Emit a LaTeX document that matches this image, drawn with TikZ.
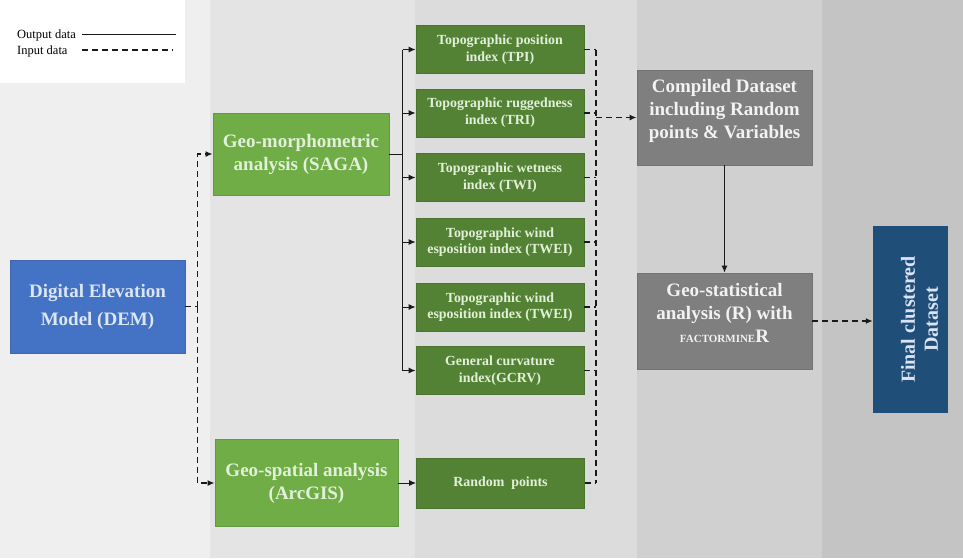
\documentclass[tikz,border=0pt]{standalone}
\usepackage{fontspec}
\setmainfont{Liberation Serif}
\usetikzlibrary{arrows.meta}
\definecolor{panelone}{HTML}{EFEFEF}
\definecolor{paneltwo}{HTML}{E4E4E4}
\definecolor{panelthree}{HTML}{DCDCDC}
\definecolor{panelfour}{HTML}{D0D0D0}
\definecolor{panelfive}{HTML}{C4C4C4}
\definecolor{demfill}{HTML}{4472C4}
\definecolor{demedge}{HTML}{3D67B2}
\definecolor{demtext}{HTML}{DCE6F4}
\definecolor{toolfill}{HTML}{70AD47}
\definecolor{tooledge}{HTML}{62993D}
\definecolor{tooltext}{HTML}{E2F0D9}
\definecolor{indexfill}{HTML}{548235}
\definecolor{indexedge}{HTML}{4A742F}
\definecolor{datafill}{HTML}{7F7F7F}
\definecolor{dataedge}{HTML}{737373}
\definecolor{datatext}{HTML}{F2F2F2}
\definecolor{finalfill}{HTML}{1F4E79}
\definecolor{finaltext}{HTML}{DAE3F3}
\definecolor{linkink}{HTML}{1A1A1A}
\newcommand{\bigtext}{\fontsize{19}{23}\selectfont\bfseries}
\newcommand{\smalltext}{\fontsize{13.9}{16.7}\selectfont\bfseries}

\begin{document}
\begin{tikzpicture}[
  x=1pt,
  y=-1pt,
  every node/.style={inner sep=0pt, align=center},
  demstyle/.style={draw=demedge, fill=demfill, text=demtext, line width=0.8pt,
                   font={\fontsize{19}{28}\selectfont\bfseries},
                   minimum width=175, minimum height=93},
  toolbox/.style={draw=tooledge, fill=toolfill, text=tooltext, line width=0.8pt,
                  font=\bigtext},
  indexbox/.style={draw=indexedge, fill=indexfill, text=tooltext, line width=0.8pt,
                   font=\smalltext, minimum width=168, minimum height=48},
  databox/.style={draw=dataedge, fill=datafill, line width=0.8pt,
                  minimum width=175, minimum height=95},
  datalabel/.style={text=datatext, font=\bigtext},
  finalbox/.style={fill=finalfill, minimum width=75, minimum height=187},
  finallabel/.style={text=finaltext, font={\fontsize{20}{23}\selectfont\bfseries}},
  legendtext/.style={font={\fontsize{12.5}{15}\selectfont}, text=black},
  outputline/.style={linkink, line width=1pt},
  inputline/.style={linkink, line width=1.8pt, dash pattern=on 6pt off 4pt},
  arrowed/.style={-{Latex[length=7pt,width=6pt]}}
]
  % ---- background panels, one per stage ---------------------------------
  \fill[panelone] (0,0) rectangle (210,558);
  \fill[white] (0,0) rectangle (185,83);
  \fill[paneltwo] (210,0) rectangle (415,558);
  \fill[panelthree] (415,0) rectangle (637,558);
  \fill[panelfour] (637,0) rectangle (822,558);
  \fill[panelfive] (822,0) rectangle (963,558);

  % ---- legend, top left ---------------------------------------------------
  \node[legendtext, anchor=base west] (outlabel) at (17,38) {Output data};
  \node[legendtext, anchor=base west] (inlabel) at (17,54) {Input data};
  \coordinate (outstart) at (82,34);
  \coordinate (outend) at (176,34);
  \coordinate (instart) at (82,50);
  \coordinate (inend) at (173,50);
  \draw[outputline] (outstart) -- (outend);
  \draw[inputline] (instart) -- (inend);

  % ---- boxes ---------------------------------------------------------------
  \node[demstyle] (dem) at (97.5,306.5) {Digital Elevation\\Model (DEM)};
  \node[toolbox, minimum width=176, minimum height=82] (saga) at (301,154)
    {Geo-morphometric\\analysis (SAGA)};
  \node[toolbox, minimum width=183, minimum height=87] (arcgis) at (306.5,483)
    {Geo-spatial analysis\\(ArcGIS)};

  \node[indexbox] (tpi) at (500,49.5) {Topographic position\\index (TPI)};
  \node[indexbox] (tri) at (500,113) {Topographic ruggedness\\index (TRI)};
  \node[indexbox] (twi) at (500,177.5) {Topographic wetness\\index (TWI)};
  \node[indexbox] (twei) at (500,242) {Topographic wind\\esposition index (TWEI)};
  \node[indexbox] (tweib) at (500,307) {Topographic wind\\esposition index (TWEI)};
  \node[indexbox] (gcrv) at (500,370.5) {General curvature\\index(GCRV)};
  \node[indexbox, minimum height=50] (random) at (500.5,483) {Random~ points};

  % the text in these three sits off the middle of its box
  \node[databox] (compiled) at (724.5,117.5) {};
  \node[datalabel] (compiledtext) at ([yshift=7pt]compiled.center)
    {Compiled Dataset\\including Random\\points \& Variables};
  \node[databox, minimum height=96] (geostat) at (724.5,321) {};
  \node[datalabel] (geostattext) at ([yshift=8pt]geostat.center)
    {Geo-statistical\\analysis (R) with\\{\fontsize{11}{11}\selectfont FACTORMINE}R};
  \node[finalbox] (final) at (910.5,319.5) {};
  \node[finallabel, rotate=90] (finaltext) at ([xshift=9pt]final.center)
    {Final clustered\\Dataset};

  % ---- DEM feeds both analyses ---------------------------------------------
  \coordinate (demsplit) at (197.5,306.5);
  \draw[inputline] (dem.east) -- (demsplit);
  \draw[inputline, arrowed] (demsplit) |- (saga.west);
  \draw[inputline, arrowed] (demsplit) |- (arcgis.west);

  % ---- SAGA gives the six indices ------------------------------------------
  \coordinate (sagabus) at (402.7,0);
  \draw[outputline] (saga.east) -- (saga.east -| sagabus);
  \draw[outputline] (tpi.west -| sagabus) -- (gcrv.west -| sagabus);
  \foreach \n in {tpi,tri,twi,twei,tweib,gcrv}
    \draw[outputline, arrowed] (\n.west -| sagabus) -- (\n.west);

  \draw[outputline, arrowed] (arcgis) -- (random);

  % ---- everything gathered into the dataset --------------------------------
  \coordinate (indexbus) at (596,0);
  \foreach \n in {tpi,tri,twi,twei,tweib,gcrv,random}
    \draw[inputline] (\n.east) -- (\n.east -| indexbus);
  \draw[inputline] (tpi.east -| indexbus) -- (random.east -| indexbus);
  \draw[inputline, arrowed] (compiled.west -| indexbus) -- (compiled.west);

  \draw[outputline, arrowed] (compiled) -- (geostat);
  \draw[inputline, arrowed] (geostat.east) -- (geostat.east -| final.west);
\end{tikzpicture}
\end{document}
